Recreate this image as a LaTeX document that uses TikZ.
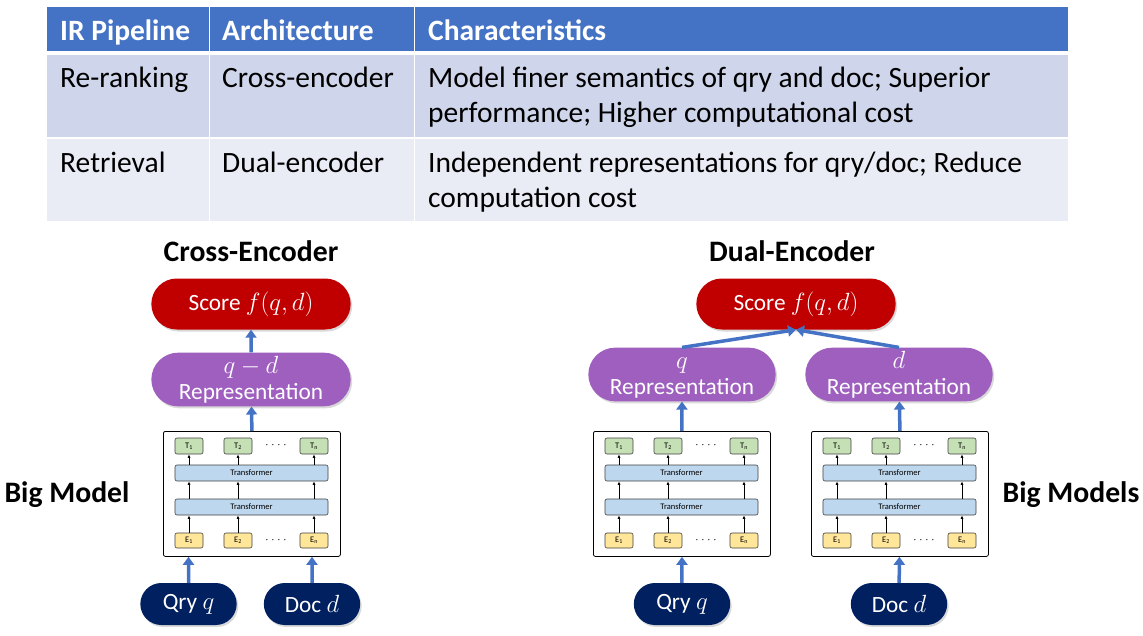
\documentclass[tikz,border=0pt]{standalone}
\usepackage{fontspec}
\setmainfont{Carlito}
\usepackage{tikz}
\usetikzlibrary{arrows.meta,shapes.misc,shadows,positioning}
\definecolor{hdrblue}{HTML}{4472C4}
\definecolor{rowone}{HTML}{CFD5EA}
\definecolor{rowtwo}{HTML}{E9EBF5}
\definecolor{scorered}{HTML}{C00000}
\definecolor{reppurple}{HTML}{9F5FBF}
\definecolor{inputnavy}{HTML}{002060}
\definecolor{tgreen}{HTML}{C5E0B4}
\definecolor{transblue}{HTML}{BDD7EE}
\definecolor{eyellow}{HTML}{FFE699}

\begin{document}
\begin{tikzpicture}
  [x=1pt,y=-1pt,
  cell/.style={rectangle, inner sep=0pt, anchor=north west},
  celltext/.style={anchor=base west, inner sep=0pt, align=left,
    font=\fontsize{29.5}{35}\selectfont},
  headtext/.style={celltext, text=white,
    font=\fontsize{29.5}{35}\selectfont\bfseries},
  title/.style={font=\fontsize{29.7}{34}\selectfont\bfseries},
  pill/.style={rounded rectangle, text=white, align=center,
    font=\fontsize{23.3}{26}\selectfont,
    drop shadow={opacity=0.3,shadow xshift=1.5pt,shadow yshift=-2pt}},
  score/.style={pill, fill=scorered, minimum width=206, minimum height=51},
  repr/.style={pill, fill=reppurple, minimum width=194, minimum height=53},
  input/.style={pill, fill=inputnavy, minimum width=103, minimum height=42},
  bigbox/.style={draw, line width=0.8pt, rounded corners=2pt, fill=white,
    minimum width=177, minimum height=125, anchor=north west, inner sep=0pt},
  tok/.style={draw=black!75, line width=0.6pt, rounded corners=2pt,
    minimum width=28, minimum height=16, inner sep=0pt,
    font=\fontsize{8.5}{9}\selectfont},
  layer/.style={tok, fill=transblue, minimum width=153},
  dots/.style={inner sep=0pt, font=\fontsize{8.5}{9}\selectfont},
  thinarrow/.style={draw, line width=0.7pt, -{Latex[length=3.5pt,width=3pt]}},
  bluearrow/.style={draw=hdrblue, line width=3.5pt,
    -{Triangle[width=11pt,length=8pt]}}]
  \useasboundingbox (0,0) rectangle (1143,635);
  % table
  \node[cell, fill=hdrblue, minimum width=162, minimum height=44] (hpipe) at (47,7) {};
  \node[cell, fill=hdrblue, minimum width=204, minimum height=44] (harch) at (210,7) {};
  \node[cell, fill=hdrblue, minimum width=653, minimum height=44] (hchar) at (415,7) {};
  \node[cell, fill=rowone, minimum width=162, minimum height=82] (rpipe) at (47,55) {};
  \node[cell, fill=rowone, minimum width=204, minimum height=82] (rarch) at (210,55) {};
  \node[cell, fill=rowone, minimum width=653, minimum height=82] (rchar) at (415,55) {};
  \node[cell, fill=rowtwo, minimum width=162, minimum height=82] (dpipe) at (47,139) {};
  \node[cell, fill=rowtwo, minimum width=204, minimum height=82] (darch) at (210,139) {};
  \node[cell, fill=rowtwo, minimum width=653, minimum height=82] (dchar) at (415,139) {};
  \node[headtext] (hpipe text) at ([shift={(13,33)}]hpipe.north west) {IR Pipeline};
  \node[headtext] (harch text) at ([shift={(12,33)}]harch.north west) {Architecture};
  \node[headtext] (hchar text) at ([shift={(13,33)}]hchar.north west) {Characteristics};
  \node[celltext] (rpipe text) at ([shift={(13,32)}]rpipe.north west) {Re-ranking};
  \node[celltext] (rarch text) at ([shift={(12,32)}]rarch.north west) {Cross-encoder};
  % two lines: base is the last line
  \node[celltext] (rchar text) at ([shift={(13,67)}]rchar.north west)
  {Model finer semantics of qry and doc; Superior\\performance; Higher computational cost};
  \node[celltext] (dpipe text) at ([shift={(13,33)}]dpipe.north west) {Retrieval};
  \node[celltext] (darch text) at ([shift={(12,33)}]darch.north west) {Dual-encoder};
  \node[celltext] (dchar text) at ([shift={(13,68)}]dchar.north west)
  {Independent representations for qry/doc; Reduce\\computation cost};
  % titles
  \node[title] (cross title) at (251,251) {Cross-Encoder};
  \node[title] (dual title) at (792,251) {Dual-Encoder};
  \node[title] (big model) at (67,495) {Big Model};
  \node[title] (big models) at (1071,495) {Big Models};
  % cross-encoder
  \node[score] (cross score) at (251,304) {Score $f(q,d)$};
  \node[repr, minimum width=206] (cross rep) at (251,379.5) {$q-d$\\Representation};
  \node[input] (cross qry) at (188.5,604) {Qry $q$};
  \node[input] (cross doc) at (312,604) {Doc $d$};
  % dual-encoder
  \node[score] (dual score) at (796,304) {Score $f(q,d)$};
  \node[repr] (qry rep) at (682,374.5) {$\vphantom{qd}q$\\Representation};
  \node[repr] (doc rep) at (899,374.5) {$\vphantom{qd}d$\\Representation};
  \node[input] (dual qry) at (682,604) {Qry $q$};
  \node[input] (dual doc) at (899,604) {Doc $d$};
  % big models
  \foreach \m/\bx in {cross/163,left/593,right/811} {
    \node[bigbox] (\m-box) at (\bx,431) {};
    \foreach \i/\dx in {1/26,2/75,n/151} {
      \node[tok, fill=tgreen] (\m-t\i) at (\bx+\dx,446) {T\textsubscript{\i}};
      \node[tok, fill=eyellow, minimum height=15] (\m-e\i) at (\bx+\dx,540.5) {E\textsubscript{\i}};
    }
    \node[dots] (\m-tdots) at (\bx+113,446) {·\ \ ·\ \ ·\ \ ·};
    \node[dots] (\m-edots) at (\bx+113,540.5) {·\ \ ·\ \ ·\ \ ·};
    \node[layer] (\m-l1) at (\bx+88.5,473) {Transformer};
    \node[layer] (\m-l2) at (\bx+88.5,507) {Transformer};
    \foreach \i in {1,2,n} {
      \path[thinarrow] (\m-e\i) -- (\m-e\i |- \m-l2.south);
      \path[thinarrow] (\m-e\i |- \m-l2.north) -- (\m-e\i |- \m-l1.south);
      \path[thinarrow] (\m-e\i |- \m-l1.north) -- (\m-t\i);
    }
  }
  \begin{scope}[every path/.style=bluearrow]
    \path (cross rep) -- (cross score); \path (cross-box.north) -- (cross rep);
    \path (cross qry) -- (cross qry |- cross-box.south);
    \path (cross doc) -- (cross doc |- cross-box.south);
    \path (qry rep.north) -- (dual score.south);
    \path (doc rep.north) -- (dual score.south);
    \path (left-box.north) -- (qry rep); \path (right-box.north) -- (doc rep);
    \path (dual qry) -- (left-box); \path (dual doc) -- (right-box);
  \end{scope}
\end{tikzpicture}
\end{document}
